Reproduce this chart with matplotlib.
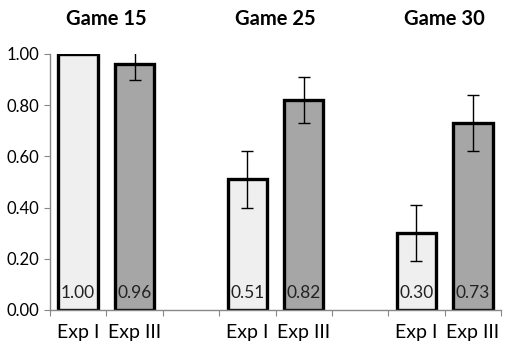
import matplotlib
matplotlib.use("Agg")
import matplotlib.pyplot as plt
import numpy as np

plt.rcParams['font.family'] = ['Lato', 'DejaVu Sans']

# donnees
games = ["Game 15", "Game 25", "Game 30"]
labels = ["Exp I", "Exp III", "", "Exp I", "Exp III", "", "Exp I", "Exp III"]
exp1 = [1.00, 0.51, 0.30]
exp3 = [0.96, 0.82, 0.73]
err1 = [0.0, 0.11, 0.11]
err3 = [0.06, 0.09, 0.11]

pos1 = [0, 3, 6]
pos3 = [1, 4, 7]

fig = plt.figure(figsize=(5.2, 3.5), dpi=100)
ax = fig.add_axes([50 / 520, 1 - 310 / 350, 451 / 520, 256 / 350])

ax.bar(pos1, exp1, width=0.7, color="#efefef", edgecolor="black", linewidth=2.4, zorder=2)
ax.bar(pos3, exp3, width=0.7, color="#a6a6a6", edgecolor="black", linewidth=2.4, zorder=2)

# pas de barre d'erreur pour Exp I game 15
e1 = [(p, v, e) for p, v, e in zip(pos1, exp1, err1) if e > 0]
ax.errorbar([x[0] for x in e1], [x[1] for x in e1], yerr=[x[2] for x in e1],
            fmt="none", ecolor="black", elinewidth=1, capsize=4, capthick=1, zorder=3)
ax.errorbar(pos3, exp3, yerr=err3, fmt="none", ecolor="black",
            elinewidth=1, capsize=4, capthick=1, zorder=3)

for p, v in zip(pos1 + pos3, exp1 + exp3):
    ax.annotate(f"{v:.2f}", (p, 0), xytext=(0, 12.5), textcoords="offset points",
                ha="center", va="center", fontsize=12.5, color="#222222", zorder=4)

for i, g in enumerate(games):
    ax.text(pos1[i] + 0.5, 1.135, g, ha="center", va="center",
            fontsize=14.5, fontweight="bold")

ax.set_xlim(-0.5, 7.5)
ax.set_ylim(0, 1.0)
ticks = np.arange(0, 1.01, 0.2)
ax.set_yticks(ticks)
ax.set_yticklabels([f"{t:.2f}" for t in ticks], fontsize=12)

ax.set_xticks(np.arange(-0.5, 8, 1))
ax.set_xticklabels([])
ax.set_xticks(np.arange(8), minor=True)
ax.set_xticklabels(labels, minor=True, fontsize=14)
ax.tick_params(axis="x", which="minor", length=0, pad=10)
ax.tick_params(axis="x", which="major", length=4, color="#888888", direction="out")
ax.tick_params(axis="y", length=4, color="#888888", direction="out", pad=4)

for s in ["top", "right"]:
    ax.spines[s].set_visible(False)
for s in ["left", "bottom"]:
    ax.spines[s].set_color("#888888")
    ax.spines[s].set_linewidth(1)

fig.savefig("out.png", dpi=100)
